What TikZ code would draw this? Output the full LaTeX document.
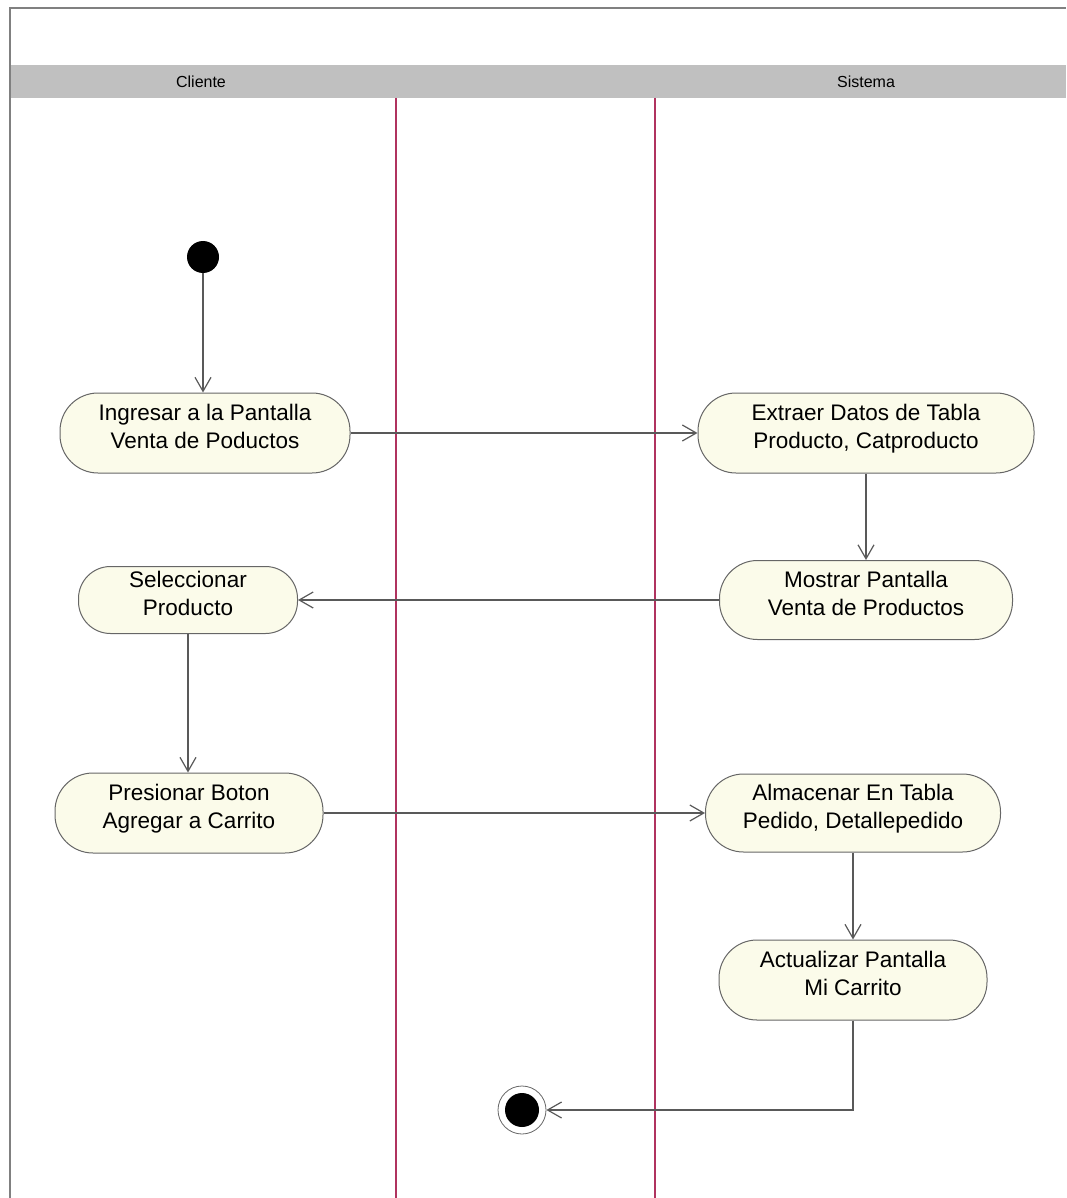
\documentclass[tikz,border=0pt]{standalone}
\usepackage{fontspec}
\setmainfont{Liberation Sans}
\usetikzlibrary{arrows.meta}

\definecolor{actfill}{HTML}{FBFBEA}
\definecolor{laneline}{HTML}{B0335F}
\definecolor{bandgray}{HTML}{C0C0C0}

\tikzset{
	activity/.style = {draw = black!60, fill = actfill, line width = 1pt, rounded corners = 38pt,
		align = center, inner sep = 0pt, minimum height = 80pt, text height = 44pt, text depth = 14pt,
		font = \fontsize{22.5}{28}\selectfont},
	flow/.style = {draw = black!65, line width = 1.2pt, -{Straight Barb[length=14pt, width=16pt]}},
	lanetitle/.style = {font = \fontsize{16}{18}\selectfont}
}

\begin{document}
\begin{tikzpicture}[x=1pt,y=-1pt]
		\useasboundingbox (0, 0) rectangle (1066, 1198);
		%%%%%%%%%%%%% swimlanes
		\fill[bandgray] (11, 65) rectangle (1066, 98);
		\draw[black!50, line width = 1.2pt] (10, 1198) -- (10, 8) -- (1066, 8);
		\draw[laneline, line width = 1.3pt] (396, 98) -- (396, 1198);
		\draw[laneline, line width = 1.3pt] (655, 98) -- (655, 1198);
		\node[lanetitle] (cliente) at (201, 82) {Cliente};
		\node[lanetitle] (sistema) at (866, 82) {Sistema};
		%%%%%%%%%%%%%
		\node[circle, fill = black, inner sep = 0pt, minimum size = 32pt] (ini) at (203, 257) {};
		\node[activity, minimum width = 290pt] (ingresar) at (205, 433) {Ingresar a la Pantalla\\Venta de Poductos};
		\node[activity, minimum width = 336pt] (extraer) at (866, 433) {Extraer Datos de Tabla\\Producto, Catproducto};
		\node[activity, minimum width = 293pt, minimum height = 79pt] (mostrar) at (866, 600) {Mostrar Pantalla\\Venta de Productos};
		\node[activity, minimum width = 219pt, minimum height = 67pt, rounded corners = 32pt] (seleccionar) at (188, 600) {Seleccionar\\Producto};
		\node[activity, minimum width = 268pt] (presionar) at (189, 813) {Presionar Boton\\Agregar a Carrito};
		\node[activity, minimum width = 295pt, minimum height = 78pt] (almacenar) at (853, 813) {Almacenar En Tabla\\Pedido, Detallepedido};
		\node[activity, minimum width = 268pt] (actualizar) at (853, 980) {Actualizar Pantalla\\Mi Carrito};
		\node[circle, draw = black!60, line width = 0.8pt, inner sep = 0pt, minimum size = 48pt] (fin) at (522, 1110) {};
		\fill[black] (fin) circle (17pt);
		%%%%%%%%%%%%%
		\draw[flow] (ini) to (ini |- ingresar.north);
		\draw[flow] (ingresar) to (extraer);
		\draw[flow] (extraer) to (mostrar);
		\draw[flow] (mostrar) to (seleccionar);
		\draw[flow] (seleccionar) to (seleccionar |- presionar.north);
		\draw[flow] (presionar) to (almacenar);
		\draw[flow] (almacenar) to (actualizar);
		\draw[flow] (actualizar) |- (fin);
	\end{tikzpicture}
\end{document}
